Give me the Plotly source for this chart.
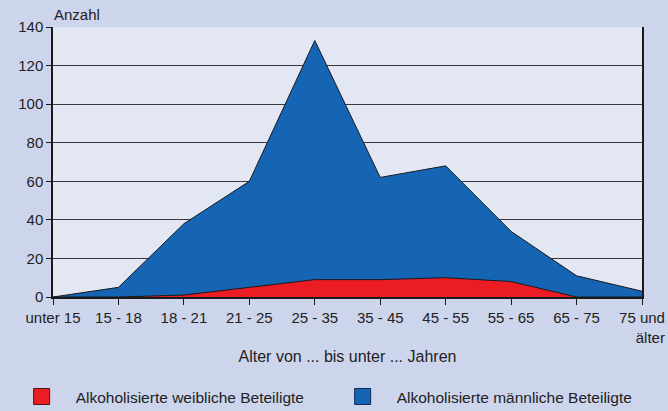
import plotly.graph_objects as go

categories = ["unter 15", "15 - 18", "18 - 21", "21 - 25", "25 - 35", "35 - 45",
              "45 - 55", "55 - 65", "65 - 75", "75 und<br>\u00a0\u00a0\u00a0\u00a0älter"]
male_top = [0, 5, 38, 60, 133, 62, 68, 34, 11, 3]
female = [0, 0, 1, 5, 9, 9, 10, 8, 0, 0]
y_ticks = [0, 20, 40, 60, 80, 100, 120, 140]

BLUE = "#1565B4"
RED = "#EC1C24"
TXT = "#222222"
FONT = "Liberation Sans, Arial, sans-serif"

x = list(range(len(categories)))

fig = go.Figure()
fig.add_trace(go.Scatter(x=x, y=male_top, mode="lines", fill="tozeroy",
                         fillcolor=BLUE, line=dict(color="#1a1a1a", width=1),
                         showlegend=False, hoverinfo="skip"))
fig.add_trace(go.Scatter(x=x, y=female, mode="lines", fill="tozeroy",
                         fillcolor=RED, line=dict(color="#1a1a1a", width=1),
                         showlegend=False, hoverinfo="skip"))
# legend entries
fig.add_trace(go.Scatter(x=[None], y=[None], mode="markers", name="Alkoholisierte weibliche Beteiligte",
                         marker=dict(symbol="square", size=16, color=RED,
                                     line=dict(color="#5a1010", width=1))))
fig.add_trace(go.Scatter(x=[None], y=[None], mode="markers", name="Alkoholisierte männliche Beteiligte",
                         marker=dict(symbol="square", size=16, color=BLUE,
                                     line=dict(color="#0d2a55", width=1))))

fig.update_layout(
    width=668, height=411,
    margin=dict(l=53, r=26, t=27, b=114, autoexpand=False),
    paper_bgcolor="#CDD5EC", plot_bgcolor="#E3E7F4",
    font=dict(family=FONT, size=15, color=TXT),
    showlegend=True,
    legend=dict(orientation="h", x=-0.077, y=-0.37, xanchor="left", yanchor="middle",
                itemwidth=58, entrywidth=248, font=dict(size=15.5, color=TXT),
                bgcolor="rgba(0,0,0,0)"),
    xaxis=dict(range=[0, 9], tickvals=x, ticktext=categories, showgrid=False, automargin=False,
               showline=True, linecolor="#1a1a1a", linewidth=2, mirror=False,
               ticks="outside", ticklen=6, tickcolor="#1a1a1a", tickwidth=1,
               zeroline=False, tickfont=dict(size=15, color=TXT),
               title=dict(text="Alter von ... bis unter ... Jahren", font=dict(size=16, color=TXT),
                          standoff=6)),
    yaxis=dict(range=[0, 140], tickvals=y_ticks, showgrid=True, gridcolor="#3a3a3a", gridwidth=1,
               automargin=False,
               showline=True, linecolor="#1a1a1a", linewidth=1.5, mirror=True,
               ticks="outside", ticklen=5, tickcolor="#1a1a1a", zeroline=False,
               tickfont=dict(size=15, color=TXT)),
    annotations=[dict(text="Anzahl", xref="paper", yref="paper", x=-0.002, y=1,
                      xanchor="left", yanchor="bottom", yshift=2, showarrow=False,
                      font=dict(size=15, color=TXT))],
)

fig.write_html("out.html", config={"displayModeBar": False},
               post_script="document.body.style.margin='0';document.body.style.overflow='hidden';")
